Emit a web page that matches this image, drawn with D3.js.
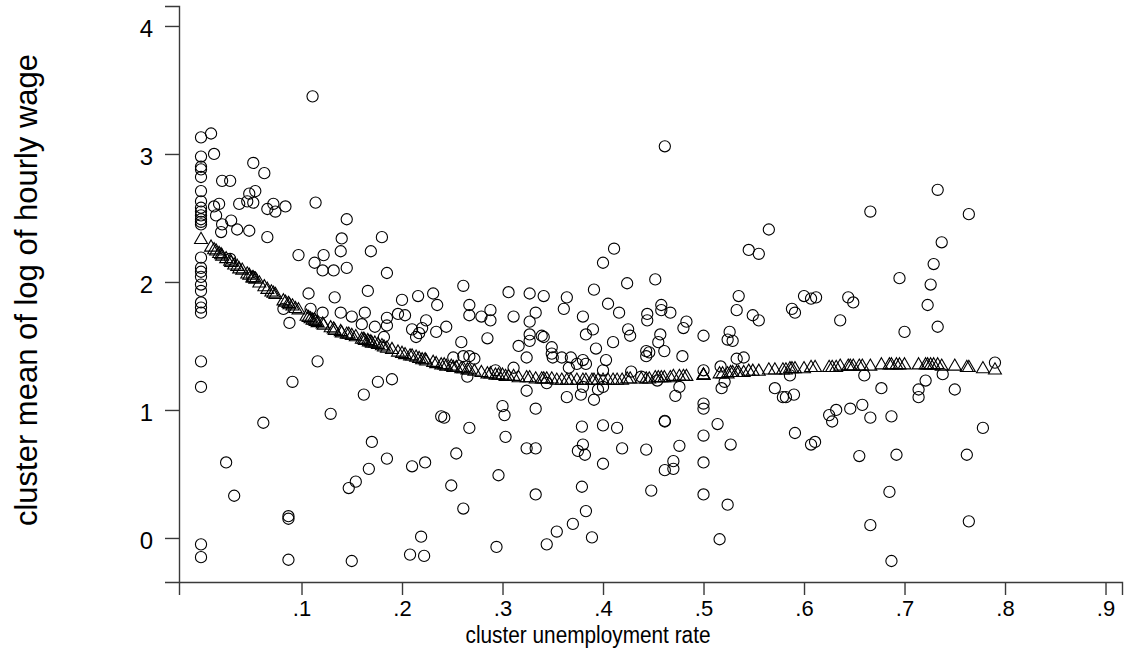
<!DOCTYPE html>
<html>
<head>
<meta charset="utf-8">
<script src="https://cdn.jsdelivr.net/npm/d3@7"></script>
<style>
  body { margin: 0; background: #fff; }
  svg text { font-family: "Liberation Sans", Arial, Helvetica, sans-serif; fill: #000; }
</style>
</head>
<body>
<svg id="chart" width="1125" height="650"></svg>
<script>
const svg = d3.select("#chart");

// observed cluster means: [unemployment rate, mean log hourly wage]
const clusters = [
  [0, 3.13], [0, 2.98], [0, 2.90], [0, 2.88], [0, 2.82], [0, 2.71], [0, 2.63], [0, 2.58],
  [0, 2.55], [0, 2.52], [0, 2.49], [0, 2.47], [0, 2.45], [0, 2.19], [0, 2.11], [0, 2.08],
  [0, 2.04], [0, 1.98], [0, 1.93], [0, 1.84], [0, 1.80], [0, 1.76], [0, 1.38], [0, 1.18],
  [0, -0.05], [0, -0.15],
  [0.010, 3.16], [0.013, 3.00], [0.052, 2.93], [0.063, 2.85], [0.021, 2.79], [0.029, 2.79],
  [0.048, 2.69], [0.054, 2.71], [0.013, 2.59], [0.018, 2.61], [0.015, 2.52], [0.038, 2.61],
  [0.046, 2.63], [0.052, 2.62], [0.066, 2.57], [0.072, 2.61], [0.074, 2.55], [0.084, 2.59],
  [0.021, 2.45], [0.030, 2.48], [0.020, 2.39], [0.036, 2.41], [0.048, 2.40], [0.066, 2.35],
  [0.097, 2.21], [0.029, 2.18], [0.051, 2.04], [0.111, 3.45], [0.114, 2.62],
  [0.145, 2.49], [0.140, 2.34], [0.139, 2.24], [0.180, 2.35], [0.169, 2.24], [0.122, 2.21],
  [0.113, 2.15], [0.121, 2.09], [0.132, 2.09], [0.145, 2.11], [0.185, 2.07],
  [0.025, 0.59], [0.033, 0.33], [0.062, 0.90], [0.087, 0.17], [0.087, 0.15], [0.087, -0.17],
  [0.150, -0.18], [0.091, 1.22], [0.088, 1.68], [0.082, 1.79], [0.107, 1.91], [0.109, 1.79],
  [0.121, 1.76], [0.133, 1.88], [0.116, 1.38], [0.129, 0.97], [0.139, 1.76], [0.150, 1.73],
  [0.166, 1.93], [0.163, 1.76], [0.160, 1.67], [0.173, 1.65], [0.185, 1.72], [0.185, 1.66],
  [0.182, 1.57], [0.196, 1.75], [0.203, 1.74], [0.200, 1.86], [0.216, 1.89], [0.231, 1.91],
  [0.235, 1.82], [0.210, 1.63], [0.214, 1.57], [0.217, 1.60], [0.220, 1.64], [0.224, 1.70],
  [0.234, 1.61], [0.162, 1.12], [0.176, 1.22], [0.190, 1.24], [0.170, 0.75], [0.185, 0.62],
  [0.167, 0.54], [0.154, 0.44], [0.147, 0.39], [0.210, 0.56], [0.223, 0.59], [0.219, 0.01],
  [0.208, -0.13], [0.222, -0.14], [0.239, 0.95],
  [0.4615, 3.06], [0.411, 2.26], [0.400, 2.15], [0.424, 1.99], [0.452, 2.02], [0.391, 1.94],
  [0.261, 1.97], [0.306, 1.92], [0.327, 1.91], [0.341, 1.89], [0.364, 1.88],
  [0.267, 1.82], [0.267, 1.74], [0.279, 1.73], [0.288, 1.78], [0.288, 1.70], [0.311, 1.73],
  [0.327, 1.69], [0.333, 1.76], [0.361, 1.79], [0.380, 1.73], [0.405, 1.83], [0.416, 1.76],
  [0.444, 1.75], [0.444, 1.70], [0.458, 1.82], [0.458, 1.78], [0.467, 1.76], [0.483, 1.69],
  [0.480, 1.64], [0.500, 1.58], [0.244, 1.65], [0.259, 1.53], [0.285, 1.56], [0.316, 1.50],
  [0.327, 1.59], [0.327, 1.54], [0.339, 1.58], [0.341, 1.57], [0.349, 1.49], [0.349, 1.44],
  [0.350, 1.41], [0.359, 1.41], [0.368, 1.41], [0.383, 1.59], [0.390, 1.63], [0.393, 1.48],
  [0.410, 1.53], [0.403, 1.39], [0.374, 1.36], [0.380, 1.39], [0.383, 1.36], [0.366, 1.33],
  [0.425, 1.63], [0.427, 1.58], [0.443, 1.46], [0.443, 1.42], [0.446, 1.45], [0.457, 1.59],
  [0.455, 1.53], [0.461, 1.46], [0.479, 1.42], [0.251, 1.41], [0.261, 1.42], [0.267, 1.42],
  [0.272, 1.40], [0.324, 1.41], [0.311, 1.33], [0.293, 1.31], [0.265, 1.26], [0.400, 1.31],
  [0.428, 1.30], [0.438, 1.26], [0.324, 1.15], [0.344, 1.21], [0.364, 1.10], [0.378, 1.12],
  [0.380, 1.18], [0.391, 1.08], [0.395, 1.16], [0.400, 1.18], [0.454, 1.23], [0.476, 1.18],
  [0.472, 1.11], [0.500, 1.31], [0.517, 1.34], [0.518, 1.17], [0.300, 1.03], [0.302, 0.96],
  [0.333, 1.01], [0.242, 0.94], [0.267, 0.86], [0.303, 0.79], [0.379, 0.87], [0.400, 0.88],
  [0.414, 0.86], [0.4615, 0.91], [0.4615, 0.915], [0.500, 1.05], [0.500, 1.01], [0.500, 0.80],
  [0.514, 0.89], [0.476, 0.72], [0.443, 0.69], [0.419, 0.70], [0.324, 0.70], [0.333, 0.70],
  [0.375, 0.68], [0.380, 0.73], [0.382, 0.65], [0.254, 0.66], [0.400, 0.58], [0.470, 0.60],
  [0.470, 0.54], [0.4615, 0.53], [0.500, 0.59], [0.296, 0.49], [0.249, 0.41], [0.333, 0.34],
  [0.379, 0.40], [0.448, 0.37], [0.500, 0.34], [0.261, 0.23], [0.383, 0.21], [0.370, 0.11],
  [0.354, 0.05], [0.389, 0.005], [0.344, -0.05], [0.294, -0.07], [0.516, -0.01],
  [0.733, 2.72], [0.666, 2.55], [0.764, 2.53], [0.565, 2.41], [0.545, 2.25], [0.555, 2.22],
  [0.737, 2.31], [0.729, 2.14], [0.695, 2.03], [0.726, 1.98], [0.723, 1.82], [0.733, 1.65],
  [0.700, 1.61], [0.535, 1.89], [0.533, 1.78], [0.549, 1.74], [0.555, 1.70], [0.588, 1.79],
  [0.591, 1.76], [0.600, 1.89], [0.607, 1.87], [0.612, 1.88], [0.644, 1.88], [0.649, 1.84],
  [0.636, 1.70], [0.526, 1.61], [0.524, 1.55], [0.529, 1.54], [0.533, 1.40], [0.540, 1.41],
  [0.790, 1.37], [0.521, 1.22], [0.586, 1.27], [0.571, 1.17], [0.579, 1.10], [0.582, 1.10],
  [0.590, 1.12], [0.660, 1.27], [0.677, 1.17], [0.721, 1.23], [0.714, 1.16], [0.714, 1.10],
  [0.738, 1.28], [0.750, 1.16], [0.527, 0.73], [0.591, 0.82], [0.625, 0.96], [0.628, 0.91],
  [0.632, 1.00], [0.646, 1.01], [0.658, 1.04], [0.666, 0.94], [0.687, 0.95], [0.778, 0.86],
  [0.607, 0.73], [0.611, 0.75], [0.524, 0.26], [0.655, 0.64], [0.692, 0.65], [0.762, 0.65],
  [0.685, 0.36], [0.666, 0.10], [0.764, 0.13], [0.687, -0.18]
];

// fitted values
const fitted = [
  [0.000, 2.33], [0.010, 2.27], [0.013, 2.25], [0.015, 2.24], [0.018, 2.22], [0.020, 2.21],
  [0.021, 2.20], [0.025, 2.18], [0.029, 2.16], [0.030, 2.15], [0.033, 2.13], [0.036, 2.12],
  [0.038, 2.10], [0.041, 2.09], [0.046, 2.06], [0.048, 2.05], [0.051, 2.03], [0.052, 2.03],
  [0.054, 2.02], [0.058, 1.99], [0.063, 1.96], [0.066, 1.94], [0.070, 1.92], [0.072, 1.91],
  [0.074, 1.90], [0.082, 1.85], [0.084, 1.84], [0.087, 1.83], [0.088, 1.82], [0.091, 1.81],
  [0.094, 1.79], [0.097, 1.78], [0.105, 1.73], [0.107, 1.72], [0.109, 1.71], [0.111, 1.70],
  [0.113, 1.70], [0.114, 1.69], [0.116, 1.68], [0.121, 1.67], [0.122, 1.66], [0.129, 1.64],
  [0.132, 1.63], [0.133, 1.62], [0.139, 1.61], [0.140, 1.60], [0.145, 1.59], [0.147, 1.59],
  [0.150, 1.58], [0.154, 1.57], [0.160, 1.55], [0.162, 1.55], [0.163, 1.54], [0.166, 1.54],
  [0.167, 1.53], [0.169, 1.53], [0.170, 1.52], [0.173, 1.52], [0.176, 1.51], [0.180, 1.50],
  [0.182, 1.49], [0.185, 1.48], [0.190, 1.47], [0.196, 1.45], [0.200, 1.44], [0.203, 1.43],
  [0.208, 1.42], [0.210, 1.42], [0.214, 1.41], [0.217, 1.40], [0.220, 1.39], [0.223, 1.39],
  [0.224, 1.38], [0.231, 1.37], [0.234, 1.36], [0.239, 1.35], [0.242, 1.35], [0.244, 1.34],
  [0.249, 1.34], [0.251, 1.33], [0.254, 1.33], [0.259, 1.32], [0.261, 1.32], [0.265, 1.31],
  [0.267, 1.31], [0.272, 1.30], [0.279, 1.29], [0.285, 1.28], [0.288, 1.28], [0.293, 1.27],
  [0.296, 1.27], [0.300, 1.27], [0.303, 1.26], [0.306, 1.26], [0.311, 1.26], [0.316, 1.25],
  [0.324, 1.25], [0.327, 1.25], [0.333, 1.24], [0.339, 1.24], [0.341, 1.24], [0.344, 1.24],
  [0.349, 1.24], [0.354, 1.23], [0.359, 1.23], [0.364, 1.23], [0.368, 1.23], [0.374, 1.23],
  [0.380, 1.23], [0.383, 1.23], [0.389, 1.23], [0.391, 1.23], [0.395, 1.23], [0.400, 1.23],
  [0.405, 1.23], [0.410, 1.23], [0.414, 1.23], [0.419, 1.23], [0.424, 1.24], [0.427, 1.24],
  [0.438, 1.24], [0.443, 1.24], [0.446, 1.24], [0.452, 1.25], [0.455, 1.25], [0.458, 1.25],
  [0.461, 1.25], [0.467, 1.25], [0.470, 1.26], [0.476, 1.26], [0.480, 1.26], [0.483, 1.26],
  [0.500, 1.27], [0.500, 1.27], [0.500, 1.27], [0.516, 1.28], [0.519, 1.28], [0.524, 1.28],
  [0.527, 1.29], [0.529, 1.29], [0.533, 1.29], [0.535, 1.29], [0.540, 1.29], [0.545, 1.30],
  [0.549, 1.30], [0.555, 1.30], [0.565, 1.31], [0.571, 1.31], [0.579, 1.31], [0.582, 1.31],
  [0.586, 1.32], [0.588, 1.32], [0.591, 1.32], [0.600, 1.32], [0.607, 1.33], [0.611, 1.33],
  [0.625, 1.33], [0.628, 1.33], [0.632, 1.33], [0.636, 1.34], [0.644, 1.34], [0.646, 1.34],
  [0.649, 1.34], [0.655, 1.34], [0.658, 1.34], [0.666, 1.34], [0.677, 1.35], [0.685, 1.35],
  [0.687, 1.35], [0.692, 1.35], [0.695, 1.35], [0.700, 1.35], [0.714, 1.35], [0.721, 1.35],
  [0.723, 1.35], [0.726, 1.35], [0.729, 1.35], [0.733, 1.35], [0.737, 1.34], [0.750, 1.34],
  [0.762, 1.33], [0.764, 1.33], [0.778, 1.32], [0.790, 1.31]
];

const xTicks = [0.1, 0.2, 0.3, 0.4, 0.5, 0.6, 0.7, 0.8, 0.9];
const yTicks = [0, 1, 2, 3, 4];

const xScale = d3.scaleLinear().domain([-0.0219, 0.9164]).range([179, 1122]);
const yScale = d3.scaleLinear().domain([-0.344, 4.156]).range([582, 6]);

// axes
const xAxis = svg.append("g")
    .attr("transform", "translate(0,582)")
    .call(d3.axisBottom(xScale)
        .tickValues(xTicks)
        .tickSizeOuter(0)
        .tickSize(13)
        .tickPadding(5)
        .tickFormat(d => d3.format(".1f")(d).replace(/^0/, "")));

const yAxis = svg.append("g")
    .attr("transform", "translate(179,0)")
    .call(d3.axisLeft(yScale)
        .tickValues(yTicks)
        .tickSizeOuter(0)
        .tickSize(14)
        .tickPadding(12)
        .tickFormat(d3.format("d")));

[xAxis, yAxis].forEach(g => {
    g.select(".domain").attr("stroke", "#3a3a3a").attr("stroke-width", 1.4);
    g.selectAll(".tick line").attr("stroke", "#3a3a3a").attr("stroke-width", 1.4);
    g.selectAll(".tick text").attr("font-size", 22).attr("fill", "#000");
});
yAxis.selectAll(".tick text").attr("font-size", 24).attr("dy", "0.42em");

// points
svg.append("g")
    .selectAll("circle")
    .data(clusters)
    .join("circle")
    .attr("cx", d => xScale(d[0]))
    .attr("cy", d => yScale(d[1]))
    .attr("r", 5.6)
    .attr("fill", "none")
    .attr("stroke", "#000")
    .attr("stroke-width", 1.1);

const tri = d3.symbol().type(d3.symbolTriangle).size(72);
svg.append("g")
    .selectAll("path")
    .data(fitted)
    .join("path")
    .attr("d", tri)
    .attr("transform", d => "translate(" + xScale(d[0]) + "," + yScale(d[1]) + ")")
    .attr("fill", "none")
    .attr("stroke", "#000")
    .attr("stroke-width", 1.1);

// axis titles
svg.append("text")
    .attr("x", 588)
    .attr("y", 643)
    .attr("text-anchor", "middle")
    .attr("font-size", 23.5)
    .attr("textLength", 245)
    .attr("lengthAdjust", "spacingAndGlyphs")
    .text("cluster unemployment rate");

svg.append("text")
    .attr("transform", "translate(37,290) rotate(-90)")
    .attr("text-anchor", "middle")
    .attr("font-size", 31)
    .text("cluster mean of log of hourly wage");
</script>
</body>
</html>
